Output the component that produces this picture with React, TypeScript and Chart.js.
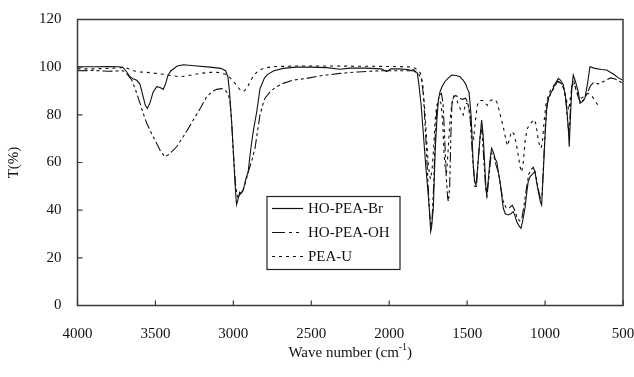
import { useEffect, useRef } from 'react';
import { Chart, registerables } from 'chart.js';
Chart.register(...registerables);

const FONT = '"Liberation Serif", "Times New Roman", serif';

const brWave = [4000, 3900, 3800, 3740, 3710, 3690, 3663, 3640, 3620, 3600, 3580, 3565, 3552, 3535, 3515, 3492, 3470, 3450, 3435, 3420, 3400, 3360, 3320, 3250, 3150, 3080, 3050, 3035, 3025, 3011, 2998, 2990, 2982, 2979, 2972, 2960, 2950, 2936, 2920, 2905, 2895, 2882, 2870, 2850, 2829, 2800, 2780, 2740, 2680, 2600, 2500, 2400, 2316, 2250, 2150, 2050, 2016, 1990, 1940, 1880, 1860, 1845, 1820, 1810, 1795, 1781, 1765, 1749, 1740, 1734, 1728, 1717, 1705, 1695, 1685, 1674, 1660, 1642, 1620, 1599, 1570, 1546, 1525, 1510, 1499, 1488, 1475, 1461, 1452, 1443, 1430, 1418, 1407, 1398, 1388, 1380, 1375, 1365, 1355, 1343, 1330, 1320, 1310, 1300, 1289, 1278, 1268, 1255, 1236, 1220, 1204, 1192, 1182, 1168, 1155, 1145, 1129, 1118, 1108, 1097, 1086, 1075, 1065, 1055, 1043, 1030, 1022, 1012, 1001, 990, 979, 958, 935, 915, 900, 883, 870, 860, 851, 845, 838, 829, 819, 805, 787, 776, 760, 744, 728, 712, 680, 640, 605, 560, 530, 500];
const brT = [100.2, 100.2, 100.3, 100.2, 100, 98.5, 96, 95, 94.5, 93, 88, 84, 82.7, 85, 89.5, 91.8, 91.5, 90.7, 93, 96.5, 98.5, 100.5, 101, 100.6, 100, 99.5, 98.5, 96, 90, 77, 62, 52, 44, 42.5, 44, 47.5, 47, 48.5, 53, 56, 62, 68.7, 74, 81.3, 91, 95.5, 97, 98.5, 99.5, 100, 100, 99.8, 99.1, 99.6, 99.6, 99.3, 98.1, 99.3, 99.3, 99, 98.6, 99, 97.5, 93, 84, 72, 58, 46, 38, 31, 33, 41, 65, 77, 86, 89.7, 92, 94, 95.5, 96.7, 96.5, 96, 94.5, 93, 91, 89.5, 80, 59, 52, 50.6, 60, 70, 77.8, 72, 60, 50, 46.4, 52, 60, 66, 64, 61.5, 60.3, 56, 52, 46, 40.8, 38.5, 38, 38.5, 39.4, 37.5, 35.2, 33.5, 32.4, 35, 40.8, 47, 52, 54, 54.8, 55.5, 56.2, 52, 47.8, 43.5, 42.2, 55, 70.2, 82.7, 87, 89.7, 93, 95.3, 94.5, 92.5, 88, 82, 74.4, 66.6, 78, 91.1, 96.7, 94, 89.7, 84.8, 85.5, 87, 93, 100.2, 99.5, 99, 98.8, 97, 95.5, 94.5];

const ohWave = [4000, 3900, 3800, 3708, 3680, 3652, 3625, 3599, 3575, 3556, 3520, 3492, 3465, 3439, 3410, 3364, 3310, 3257, 3210, 3171, 3130, 3107, 3075, 3054, 3035, 3022, 3010, 2998, 2985, 2975, 2968, 2955, 2940, 2925, 2905, 2885, 2861, 2845, 2829, 2810, 2797, 2760, 2722, 2680, 2615, 2529, 2450, 2316, 2200, 2059, 1950, 1845, 1810, 1792, 1780, 1765, 1750, 1740, 1732, 1725, 1715, 1705, 1695, 1680, 1665, 1655, 1645, 1635, 1625, 1620, 1612, 1605, 1598, 1585, 1570, 1550, 1530, 1510, 1495, 1480, 1465, 1450, 1440, 1428, 1415, 1405, 1392, 1380, 1372, 1360, 1345, 1330, 1315, 1300, 1285, 1270, 1250, 1230, 1210, 1195, 1180, 1165, 1150, 1135, 1120, 1105, 1090, 1075, 1060, 1045, 1030, 1020, 1008, 995, 985, 965, 945, 920, 900, 880, 865, 855, 846, 838, 828, 815, 800, 785, 770, 750, 730, 710, 690, 660, 640, 610, 580, 550, 520, 500];
const ohT = [98.5, 98.6, 98.3, 98.5, 97, 94.6, 90, 84.8, 80, 76.5, 71.5, 68, 64.5, 62.4, 63.5, 66.6, 72, 77.8, 83, 87.6, 90, 90.7, 91, 90.4, 89, 86, 76, 62, 50, 46, 45, 47, 48, 51, 56, 60, 66, 73, 80, 84.5, 87, 90, 91.8, 93.2, 94.6, 95.3, 96.3, 97.4, 98, 98.5, 98.5, 98.5, 97, 94.6, 88, 70, 50, 38, 33, 36, 50, 70, 82, 88, 89, 85, 72, 55, 45, 43.6, 50, 70, 84, 88.5, 88, 87, 86.5, 87, 85, 78, 62, 50, 50, 62, 72, 74, 60, 48, 46, 54, 64, 63, 59, 56, 50, 44, 41, 41, 42, 40, 37, 35.5, 36, 42, 49, 55, 57, 58, 55, 49, 45, 46, 62, 78, 85, 89, 91, 94, 93.5, 91, 85, 77, 72, 82, 92, 94, 90, 87, 85, 86.5, 89, 92, 93.5, 93, 93.5, 94.5, 95.5, 95, 94, 93];

const uWave = [4000, 3900, 3800, 3720, 3680, 3640, 3600, 3550, 3500, 3450, 3400, 3350, 3300, 3250, 3200, 3150, 3100, 3050, 3020, 2999, 2975, 2950, 2930, 2910, 2893, 2870, 2840, 2808, 2750, 2600, 2400, 2200, 2000, 1900, 1850, 1820, 1800, 1785, 1772, 1760, 1750, 1742, 1735, 1725, 1715, 1705, 1695, 1680, 1668, 1658, 1648, 1640, 1632, 1624, 1612, 1598, 1585, 1570, 1555, 1540, 1525, 1510, 1495, 1480, 1468, 1458, 1448, 1435, 1420, 1400, 1385, 1370, 1350, 1330, 1310, 1295, 1280, 1265, 1250, 1240, 1228, 1215, 1200, 1185, 1172, 1160, 1150, 1140, 1128, 1115, 1100, 1085, 1070, 1058, 1045, 1035, 1025, 1015, 1005, 995, 980, 960, 935, 915, 895, 880, 865, 855, 848, 840, 830, 818, 800, 785, 770, 755, 740, 725, 710, 695, 680, 665, 650];
const uT = [99.3, 99.3, 99.5, 99.8, 99.5, 98.5, 98, 97.8, 97.4, 97, 96.5, 96, 96.3, 97, 97.5, 97.8, 97.8, 97, 95.5, 94, 92, 90, 90, 91.5, 93.9, 96.5, 98.5, 99.5, 100.2, 100.5, 100.5, 100.4, 100.3, 100.2, 100, 99, 97.5, 93, 82, 70, 60, 55, 53, 57, 66, 78, 84, 86, 85, 78, 64, 57, 56, 63, 76, 85, 88, 87, 84, 82, 80, 85, 84.5, 80, 72, 70, 77, 84, 86, 86, 85, 84, 86, 86.5, 85.5, 82, 78, 74, 69, 67, 70, 73, 72, 68, 63, 58, 56, 60, 69, 74, 76, 77, 78, 76, 70, 67, 66, 70, 78, 84, 88, 91, 93, 94, 93, 91, 87, 84, 82, 86, 91, 93.5, 91, 88, 87, 87.5, 88.5, 89, 88.5, 87.5, 86, 84.5, 83];

const seriesNames = ['HO-PEA-Br', 'HO-PEA-OH', 'PEA-U'];
const xTicks = [4000, 3500, 3000, 2500, 2000, 1500, 1000, 500];
const yTicks = [0, 20, 40, 60, 80, 100, 120];

const dashes: number[][] = [[], [10, 3, 3, 3, 3, 3], [3, 4]];

function toPts(w: number[], t: number[]) {
  return w.map((x, i) => ({ x, y: t[i] }));
}

const decorPlugin = {
  id: 'decor',
  afterDraw(chart: any) {
    const { ctx, chartArea: a, scales } = chart;
    ctx.save();
    ctx.strokeStyle = '#3a3a3a';
    ctx.lineWidth = 1.5;
    ctx.strokeRect(a.left, a.top, a.right - a.left, a.bottom - a.top);
    ctx.lineWidth = 1.2;
    ctx.beginPath();
    xTicks.forEach((v) => {
      const px = scales.x.getPixelForValue(v);
      ctx.moveTo(px, a.bottom);
      ctx.lineTo(px, a.bottom - 5);
    });
    yTicks.forEach((v) => {
      const py = scales.y.getPixelForValue(v);
      ctx.moveTo(a.left, py);
      ctx.lineTo(a.left + 5, py);
    });
    ctx.stroke();

    // axis titles
    ctx.fillStyle = '#111';
    ctx.font = `15px ${FONT}`;
    ctx.textBaseline = 'middle';
    const cx = (a.left + a.right) / 2;
    const t1 = 'Wave number (cm';
    const sup = '-1';
    const t2 = ')';
    const w1 = ctx.measureText(t1).width;
    ctx.font = `10px ${FONT}`;
    const ws = ctx.measureText(sup).width;
    ctx.font = `15px ${FONT}`;
    const w2 = ctx.measureText(t2).width;
    let sx = cx - (w1 + ws + w2) / 2;
    const ty = a.bottom + 48;
    ctx.textAlign = 'left';
    ctx.fillText(t1, sx, ty);
    sx += w1;
    ctx.font = `10px ${FONT}`;
    ctx.fillText(sup, sx, ty - 6);
    sx += ws;
    ctx.font = `15px ${FONT}`;
    ctx.fillText(t2, sx, ty);

    ctx.save();
    ctx.translate(14, (a.top + a.bottom) / 2);
    ctx.rotate(-Math.PI / 2);
    ctx.textAlign = 'center';
    ctx.fillText('T(%)', 0, 0);
    ctx.restore();

    // legend box
    const bx = a.left + 189.5;
    const by = a.top + 177;
    const bw = 133;
    const bh = 73;
    ctx.fillStyle = '#fff';
    ctx.fillRect(bx, by, bw, bh);
    ctx.strokeStyle = '#222';
    ctx.lineWidth = 1.2;
    ctx.strokeRect(bx, by, bw, bh);
    seriesNames.forEach((name, i) => {
      const ry = by + 12 + i * 24;
      ctx.save();
      ctx.strokeStyle = '#111';
      ctx.lineWidth = 1.2;
      ctx.setLineDash(i === 1 ? [13, 4, 3, 4, 3, 4] : dashes[i]);
      ctx.beginPath();
      ctx.moveTo(bx + 5, ry);
      ctx.lineTo(bx + 36, ry);
      ctx.stroke();
      ctx.restore();
      ctx.fillStyle = '#111';
      ctx.textAlign = 'left';
      ctx.textBaseline = 'middle';
      ctx.font = `15px ${FONT}`;
      ctx.fillText(name, bx + 41, ry + 1);
    });
    ctx.restore();
  },
};

export default function App() {
  const ref = useRef<HTMLCanvasElement>(null);
  useEffect(() => {
    if (!ref.current) return;
    const data = [toPts(brWave, brT), toPts(ohWave, ohT), toPts(uWave, uT)];
    const chart = new Chart(ref.current, {
      type: 'line',
      data: {
        datasets: data.map((d, i) => ({
          label: seriesNames[i],
          data: d,
          borderColor: '#111',
          borderWidth: 1.1,
          borderDash: dashes[i],
          pointRadius: 0,
          tension: 0,
          fill: false,
        })),
      },
      options: {
        responsive: false,
        animation: false,
        parsing: true,
        layout: { padding: { top: 19.5, right: 11, left: 0, bottom: 0 } },
        plugins: { legend: { display: false }, tooltip: { enabled: false } },
        scales: {
          x: {
            type: 'linear',
            reverse: true,
            min: 500,
            max: 4000,
            afterBuildTicks: (s: any) => {
              s.ticks = xTicks.map((v) => ({ value: v }));
            },
            afterFit: (s: any) => {
              s.height = 71.5;
              s.paddingLeft = 0;
              s.paddingRight = 0;
            },
            grid: { display: false, drawTicks: false },
            border: { display: false },
            ticks: {
              color: '#111',
              padding: 20,
              maxRotation: 0,
              autoSkip: false,
              font: { family: FONT, size: 15 },
              callback: (v: any) => String(v),
            },
          },
          y: {
            min: 0,
            max: 120,
            afterBuildTicks: (s: any) => {
              s.ticks = yTicks.map((v) => ({ value: v }));
            },
            afterFit: (s: any) => {
              s.width = 77.5;
              s.paddingTop = 0;
              s.paddingBottom = 0;
            },
            grid: { display: false, drawTicks: false },
            border: { display: false },
            ticks: {
              color: '#111',
              padding: 16,
              autoSkip: false,
              font: { family: FONT, size: 15 },
              callback: (v: any) => String(v),
            },
          },
        },
      },
      plugins: [decorPlugin],
    });
    return () => chart.destroy();
  }, []);
  return (
    <div style={{ position: 'fixed', left: 0, top: 0, width: 634, height: 377, background: '#fff' }}>
      <canvas ref={ref} width={634} height={377} style={{ width: 634, height: 377 }} />
    </div>
  );
}
